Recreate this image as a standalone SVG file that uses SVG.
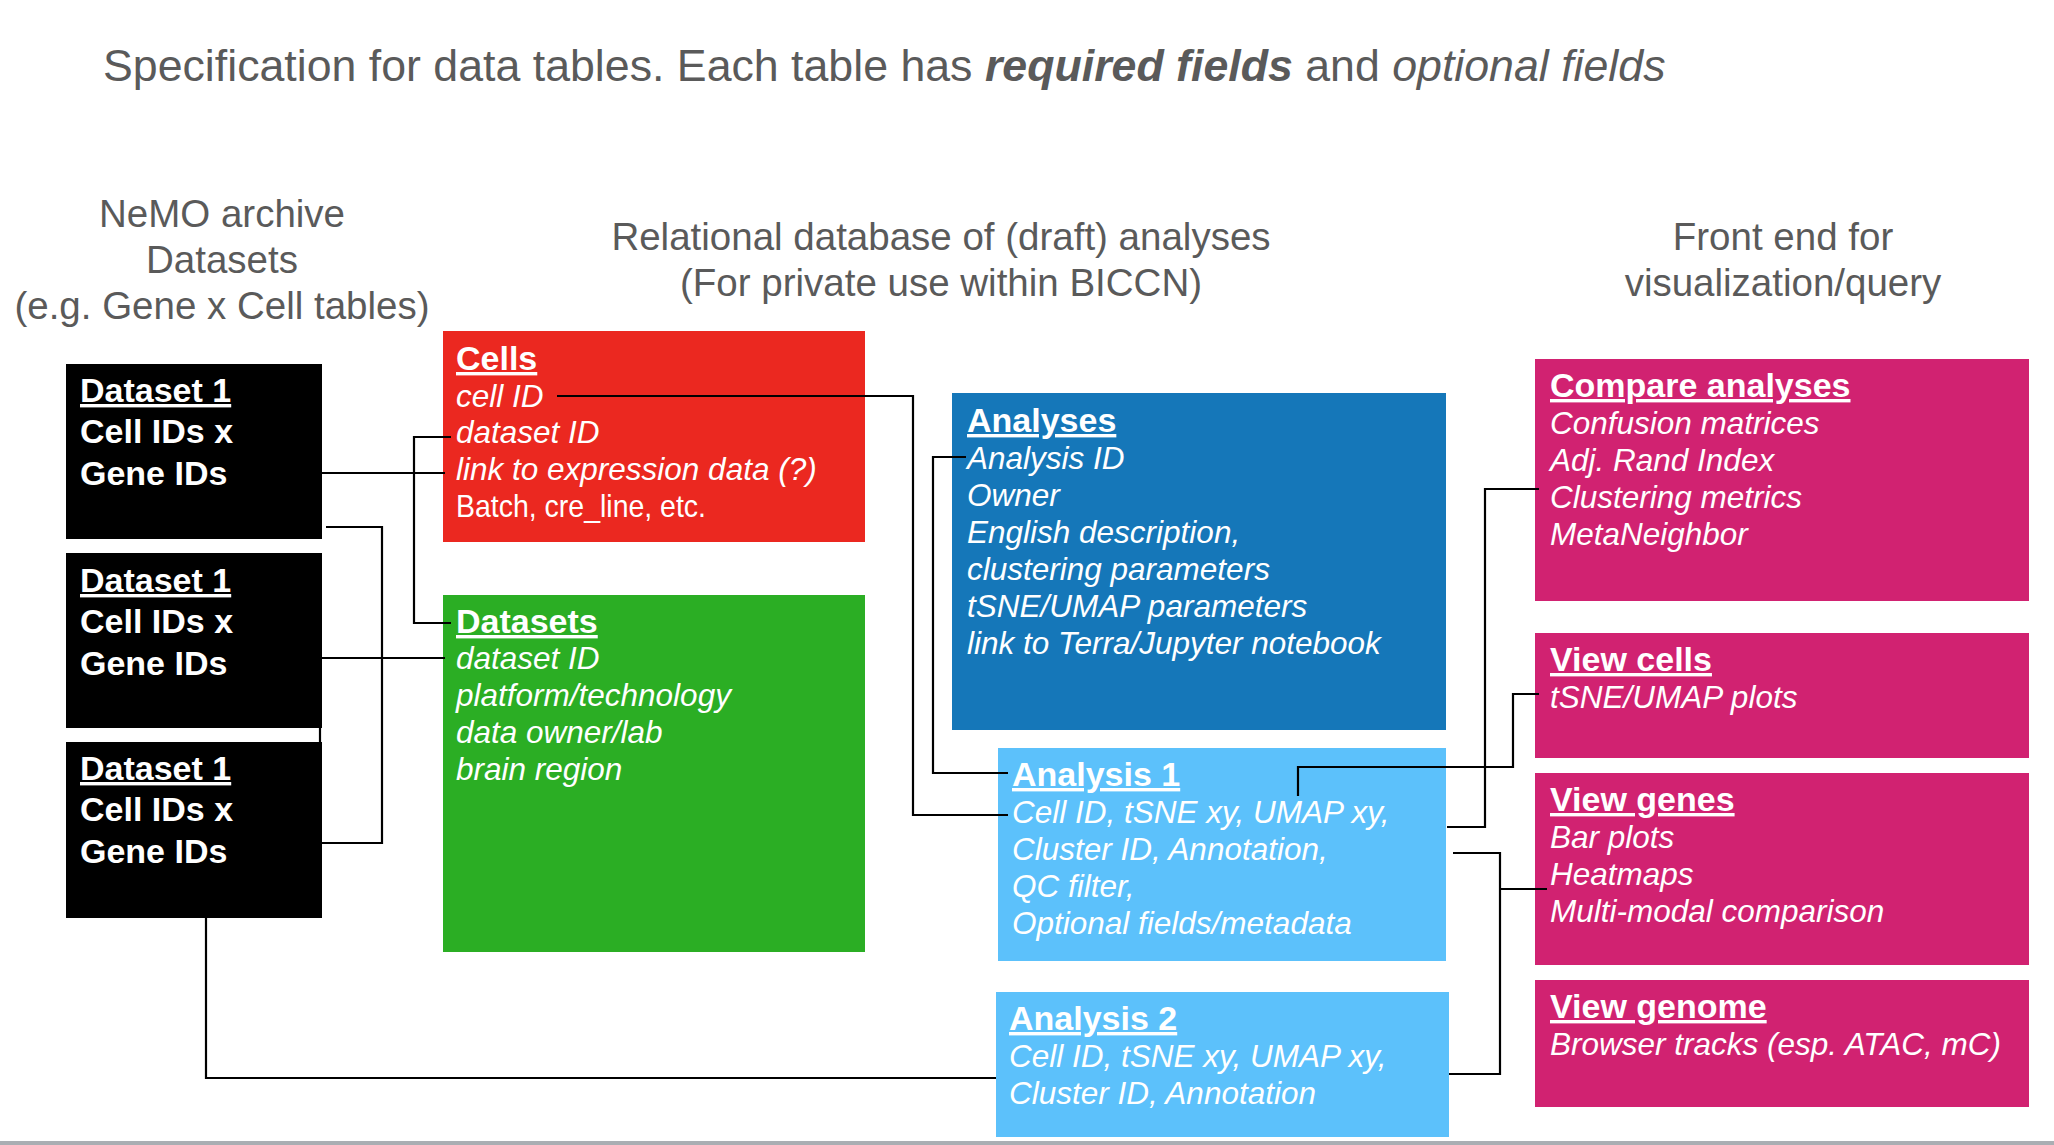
<svg xmlns="http://www.w3.org/2000/svg" width="2054" height="1145" viewBox="0 0 2054 1145">
<style>
text{font-family:"Liberation Sans",Arial,Helvetica,sans-serif;}
.ttl{font-size:44.7px;fill:#5a5a5a;}
.sec{font-size:38.5px;fill:#5a5a5a;text-anchor:middle;}
.hd{font-size:34px;font-weight:bold;fill:#fff;text-decoration:underline;}
.dl{font-size:34px;font-weight:bold;fill:#fff;}
.bd{font-size:31.5px;font-style:italic;fill:#fff;}
.pl{font-size:31.5px;fill:#fff;}
.cn{fill:none;stroke:#000;stroke-width:2.2;}
</style>
<rect width="2054" height="1145" fill="#fff"/>
<text class="ttl" x="103" y="81">Specification for data tables. Each table has <tspan font-weight="bold" font-style="italic">required fields</tspan> and <tspan font-style="italic">optional fields</tspan></text>
<g id="headers">
<text class="sec" x="222" y="227">NeMO archive</text>
<text class="sec" x="222" y="273">Datasets</text>
<text class="sec" x="222" y="319">(e.g. Gene x Cell tables)</text>
<text class="sec" x="941" y="250">Relational database of (draft) analyses</text>
<text class="sec" x="941" y="296">(For private use within BICCN)</text>
<text class="sec" x="1783" y="250">Front end for</text>
<text class="sec" x="1783" y="296">visualization/query</text>
</g>
<g id="dataset1">
<rect x="66" y="364" width="256" height="175" fill="#000"/>
<text class="hd" x="80" y="402">Dataset 1</text>
<text class="dl" x="80" y="443">Cell IDs x</text>
<text class="dl" x="80" y="485">Gene IDs</text>
</g>
<g id="dataset2">
<rect x="66" y="553" width="256" height="175" fill="#000"/>
<text class="hd" x="80" y="592">Dataset 1</text>
<text class="dl" x="80" y="633">Cell IDs x</text>
<text class="dl" x="80" y="675">Gene IDs</text>
</g>
<g id="dataset3">
<rect x="66" y="742" width="256" height="176" fill="#000"/>
<text class="hd" x="80" y="780">Dataset 1</text>
<text class="dl" x="80" y="821">Cell IDs x</text>
<text class="dl" x="80" y="863">Gene IDs</text>
</g>
<g id="cells">
<rect x="443" y="331" width="422" height="211" fill="#EB2820"/>
<text class="hd" x="456" y="370">Cells</text>
<text class="bd" x="456" y="407">cell ID</text>
<text class="bd" x="456" y="443">dataset ID</text>
<text class="bd" x="456" y="480">link to expression data (?)</text>
<text class="pl" x="456" y="517" textLength="250" lengthAdjust="spacingAndGlyphs">Batch, cre_line, etc.</text>
</g>
<g id="datasets">
<rect x="443" y="595" width="422" height="357" fill="#2BAE24"/>
<text class="hd" x="456" y="633">Datasets</text>
<text class="bd" x="456" y="669">dataset ID</text>
<text class="bd" x="456" y="706">platform/technology</text>
<text class="bd" x="456" y="743">data owner/lab</text>
<text class="bd" x="456" y="780">brain region</text>
</g>
<g id="analyses">
<rect x="952" y="393" width="494" height="337" fill="#1577B9"/>
<text class="hd" x="967" y="432">Analyses</text>
<text class="bd" x="967" y="469">Analysis ID</text>
<text class="bd" x="967" y="506">Owner</text>
<text class="bd" x="967" y="543">English description,</text>
<text class="bd" x="967" y="580">clustering parameters</text>
<text class="bd" x="967" y="617">tSNE/UMAP parameters</text>
<text class="bd" x="967" y="654">link to Terra/Jupyter notebook</text>
</g>
<g id="analysis1">
<rect x="998" y="748" width="448" height="213" fill="#5CC1FB"/>
<text class="hd" x="1012" y="786">Analysis 1</text>
<text class="bd" x="1012" y="823">Cell ID, tSNE xy, UMAP xy,</text>
<text class="bd" x="1012" y="860">Cluster ID, Annotation,</text>
<text class="bd" x="1012" y="897">QC filter,</text>
<text class="bd" x="1012" y="934">Optional fields/metadata</text>
</g>
<g id="analysis2">
<rect x="996" y="992" width="453" height="145" fill="#5CC1FB"/>
<text class="hd" x="1009" y="1030">Analysis 2</text>
<text class="bd" x="1009" y="1067">Cell ID, tSNE xy, UMAP xy,</text>
<text class="bd" x="1009" y="1104">Cluster ID, Annotation</text>
</g>
<g id="compare">
<rect x="1535" y="359" width="494" height="242" fill="#D12271"/>
<text class="hd" x="1550" y="397">Compare analyses</text>
<text class="bd" x="1550" y="434">Confusion matrices</text>
<text class="bd" x="1550" y="471">Adj. Rand Index</text>
<text class="bd" x="1550" y="508">Clustering metrics</text>
<text class="bd" x="1550" y="545">MetaNeighbor</text>
</g>
<g id="viewcells">
<rect x="1535" y="633" width="494" height="125" fill="#D12271"/>
<text class="hd" x="1550" y="671">View cells</text>
<text class="bd" x="1550" y="708">tSNE/UMAP plots</text>
</g>
<g id="viewgenes">
<rect x="1535" y="773" width="494" height="192" fill="#D12271"/>
<text class="hd" x="1550" y="811">View genes</text>
<text class="bd" x="1550" y="848">Bar plots</text>
<text class="bd" x="1550" y="885">Heatmaps</text>
<text class="bd" x="1550" y="922">Multi-modal comparison</text>
</g>
<g id="viewgenome">
<rect x="1535" y="980" width="494" height="127" fill="#D12271"/>
<text class="hd" x="1550" y="1018">View genome</text>
<text class="bd" x="1550" y="1055">Browser tracks (esp. ATAC, mC)</text>
</g>
<g id="connectors">
<path class="cn" d="M557,396 H913 V815 H1008"/>
<path class="cn" d="M966,457 H933 V773 H1008"/>
<path class="cn" d="M322,473 H445"/>
<path class="cn" d="M451,437 H414 V623 H451"/>
<path class="cn" d="M326,527 H382 V843 H322"/>
<path class="cn" d="M322,658 H445"/>
<path class="cn" d="M320,728 V742"/>
<path class="cn" d="M206,918 V1078 H996"/>
<path class="cn" d="M1447,827 H1485 V489 H1539"/>
<path class="cn" d="M1298,796 V767 H1513 V694 H1539"/>
<path class="cn" d="M1453,853 H1500 V1074 H1449"/>
<path class="cn" d="M1500,889 H1547"/>
</g>
<rect x="0" y="1141" width="2054" height="4" fill="#AAAEB3"/>
</svg>
